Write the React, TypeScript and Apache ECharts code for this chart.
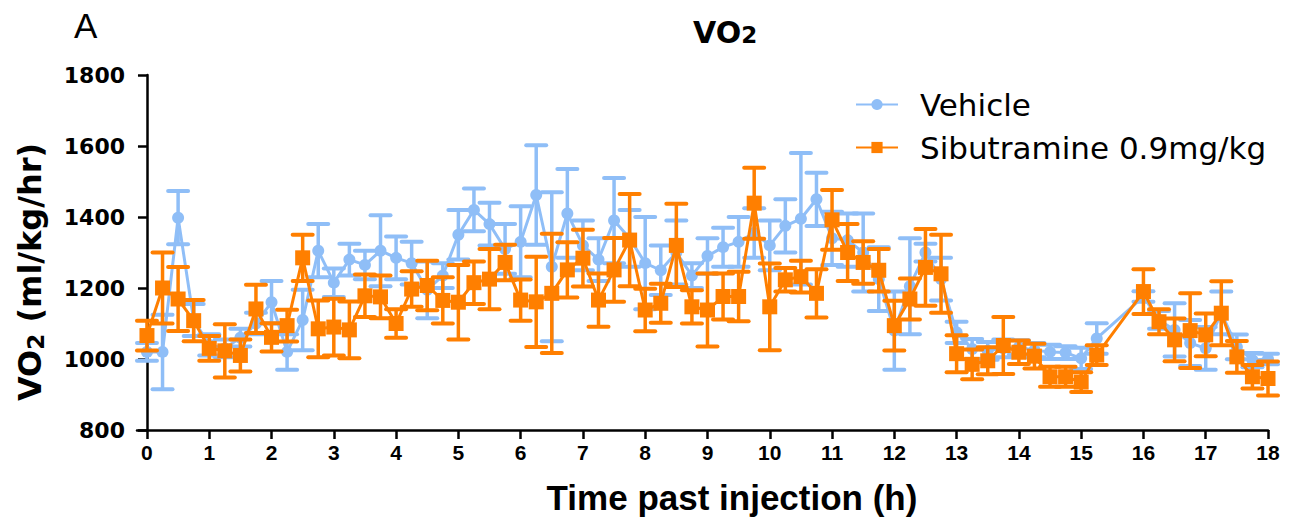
import React, { useEffect, useRef } from "react";
import * as echarts from "echarts";

const times = [
  0, 0.25, 0.5, 0.75, 1, 1.25, 1.5, 1.75, 2, 2.25, 2.5, 2.75,
  3, 3.25, 3.5, 3.75, 4, 4.25, 4.5, 4.75, 5, 5.25, 5.5, 5.75,
  6, 6.25, 6.5, 6.75, 7, 7.25, 7.5, 7.75, 8, 8.25, 8.5, 8.75,
  9, 9.25, 9.5, 9.75, 10, 10.25, 10.5, 10.75, 11, 11.25, 11.5, 11.75,
  12, 12.25, 12.5, 12.75, 13, 13.25, 13.5, 13.75, 14, 14.25, 14.5, 14.75,
  15, 15.25,
  16, 16.25, 16.5, 16.75, 17, 17.25, 17.5, 17.75, 18,
];

const vehicleMean = [
  1020, 1020, 1398, 1110, 1040, 1030, 1060, 1100, 1160, 1020, 1110, 1305,
  1215, 1280, 1265, 1305, 1285, 1270, 1195, 1235, 1350, 1420, 1380, 1310,
  1330, 1462, 1260, 1410, 1320, 1280, 1390, 1340, 1270, 1250, 1300, 1235,
  1290, 1315, 1330, 1355, 1320, 1375, 1395, 1450, 1340, 1335, 1300, 1225,
  1080, 1205, 1300, 1225, 1075, 1028, 1023, 1030, 1033, 1025, 1020, 1018,
  1002, 1058,
  1176, 1110, 1082, 1045, 1030, 1130, 1034, 997, 1000,
];
const vehicleSem = [
  25, 105, 75, 45, 30, 25, 25, 30, 60, 50, 85, 75,
  40, 45, 40, 100, 60, 60, 80, 35, 70, 60, 60, 70,
  100, 140, 210, 125, 70, 60, 120, 80, 130, 70, 90, 35,
  50, 55, 70, 70, 70, 75, 185, 75, 75, 75, 110, 90,
  110, 135, 25, 60, 30, 28, 25, 25, 20, 20, 20, 18,
  30, 43,
  15, 25, 75, 65, 60, 60, 35, 20, 15,
];

const sibMean = [
  1066, 1200, 1169, 1108, 1030, 1023, 1010, 1141, 1061, 1094, 1285, 1085,
  1090, 1082, 1178, 1175, 1100, 1197, 1207, 1165, 1160, 1215, 1225, 1272,
  1166, 1161, 1185, 1251, 1284, 1166, 1251, 1335, 1138, 1157, 1320, 1147,
  1138, 1176, 1176, 1439, 1147, 1223, 1232, 1185, 1392, 1300, 1272, 1250,
  1094, 1169, 1258, 1240, 1015, 985, 995, 1038, 1019, 1008, 950, 950,
  935, 1011,
  1190, 1105, 1054, 1080, 1068, 1129, 1006, 950, 945,
];
const sibSem = [
  42, 100, 90, 58, 35, 75, 45, 68, 40, 45, 65, 80,
  80, 80, 60, 60, 40, 50, 70, 65, 105, 60, 85, 50,
  58, 127, 168, 78, 80, 75, 90, 130, 60, 55, 117, 47,
  103, 65, 70, 100, 122, 33, 45, 68, 84, 80, 60, 60,
  70, 58, 108, 110, 52, 42, 38, 80, 33, 35, 28, 28,
  28, 28,
  63, 35, 60, 105, 60, 90, 45, 33, 48,
];

const xTicks = [0, 1, 2, 3, 4, 5, 6, 7, 8, 9, 10, 11, 12, 13, 14, 15, 16, 17, 18];

const BLUE = "#8fbef7";
const ORANGE = "#ff7f00";

function errorSeries(name: string, mean: number[], sem: number[], color: string, z: number) {
  return {
    type: "custom",
    name,
    z,
    silent: true,
    data: times.map((t, i) => [t, mean[i], sem[i]]),
    encode: { x: 0, y: 1 },
    renderItem: (_params: any, api: any) => {
      const x = api.value(0);
      const y = api.value(1);
      const e = api.value(2);
      const top = api.coord([x, y + e]);
      const bot = api.coord([x, y - e]);
      const hw = 10;
      return {
        type: "group",
        children: [
          { type: "line", shape: { x1: top[0], y1: top[1], x2: bot[0], y2: bot[1] }, style: { stroke: color, lineWidth: 3.5 } },
          { type: "line", shape: { x1: top[0] - hw, y1: top[1], x2: top[0] + hw, y2: top[1] }, style: { stroke: color, lineWidth: 4, lineCap: "round" } },
          { type: "line", shape: { x1: bot[0] - hw, y1: bot[1], x2: bot[0] + hw, y2: bot[1] }, style: { stroke: color, lineWidth: 4, lineCap: "round" } },
        ],
      };
    },
  };
}

export default function App() {
  const ref = useRef<HTMLDivElement>(null);
  useEffect(() => {
    if (!ref.current) return;
    const chart = echarts.init(ref.current, null, { renderer: "svg" });
    const font = "'Liberation Sans', Arial, sans-serif";
    const wide = "'DejaVu Sans', sans-serif";
    chart.setOption({
      animation: false,
      backgroundColor: "#ffffff",
      graphic: [
        { type: "text", left: 74, top: 8, style: { text: "A", font: `35px ${font}`, fill: "#000" } },
        {
          type: "text",
          left: 693,
          top: 17,
          style: {
            text: "VO{s|2}",
            font: `bold 30px ${wide}`,
            fill: "#000",
            rich: { s: { fontFamily: wide, fontSize: 23, fontWeight: "bold", fill: "#000", padding: [5, 0, 0, 0] } },
          },
        },
        {
          type: "text",
          x: 732,
          y: 497,
          style: {
            text: "Time past injection (h)",
            font: `bold 35px ${font}`,
            fill: "#000",
            align: "center",
            verticalAlign: "middle",
          },
        },
        {
          type: "text",
          x: 30,
          y: 272,
          rotation: Math.PI / 2,
          style: {
            text: "VO{s|2} (ml/kg/hr)",
            font: `bold 32px ${wide}`,
            fill: "#000",
            align: "center",
            verticalAlign: "middle",
            rich: { s: { fontFamily: wide, fontSize: 23, fontWeight: "bold", fill: "#000", padding: [12, 0, 0, 0] } },
          },
        },
      ],
      legend: {
        left: 850,
        top: 84,
        orient: "vertical",
        itemGap: 12,
        itemWidth: 42,
        itemHeight: 14,
        textStyle: { fontFamily: wide, fontSize: 31, color: "#000", padding: [0, 0, 0, 17] },
        data: ["Vehicle", "Sibutramine 0.9mg/kg"],
      },
      grid: { left: 137, right: 25, top: 75, bottom: 94, containLabel: false, outerBoundsMode: "none" },
      xAxis: {
        type: "value",
        min: -0.16,
        max: 18,
        axisLine: { show: true, onZero: false, lineStyle: { color: "#000", width: 2.5 } },
        axisTick: { show: true, length: 9, customValues: xTicks, lineStyle: { color: "#000", width: 2.5 } },
        axisLabel: {
          customValues: xTicks,
          margin: 12,
          fontFamily: "'Liberation Sans Narrow', 'Arial Narrow', 'Liberation Sans', sans-serif",
          fontSize: 21,
          fontWeight: "bold",
          color: "#000",
        },
        splitLine: { show: false },
      },
      yAxis: {
        type: "value",
        min: 800,
        max: 1800,
        interval: 200,
        axisLine: { show: true, lineStyle: { color: "#000", width: 2.5 } },
        axisTick: { show: true, length: 9, lineStyle: { color: "#000", width: 2.5 } },
        axisLabel: {
          margin: 12,
          fontFamily: wide,
          fontSize: 22,
          fontWeight: "bold",
          color: "#000",
          formatter: (v: number) => String(v),
        },
        splitLine: { show: false },
      },
      series: [
        errorSeries("Vehicle SEM", vehicleMean, vehicleSem, BLUE, 1),
        {
          type: "line",
          name: "Vehicle",
          z: 2,
          data: times.map((t, i) => [t, vehicleMean[i]]),
          symbol: "circle",
          symbolSize: 12,
          showSymbol: true,
          lineStyle: { color: BLUE, width: 3 },
          itemStyle: { color: BLUE },
          silent: true,
        },
        errorSeries("Sibutramine SEM", sibMean, sibSem, ORANGE, 3),
        {
          type: "line",
          name: "Sibutramine 0.9mg/kg",
          z: 4,
          data: times.map((t, i) => [t, sibMean[i]]),
          symbol: "rect",
          symbolSize: 15,
          showSymbol: true,
          lineStyle: { color: ORANGE, width: 3 },
          itemStyle: { color: ORANGE },
          silent: true,
        },
      ],
    });
    return () => chart.dispose();
  }, []);
  return (
    <div
      ref={ref}
      style={{ position: "fixed", left: 0, top: 0, width: 1293, height: 524, background: "#fff" }}
    />
  );
}
